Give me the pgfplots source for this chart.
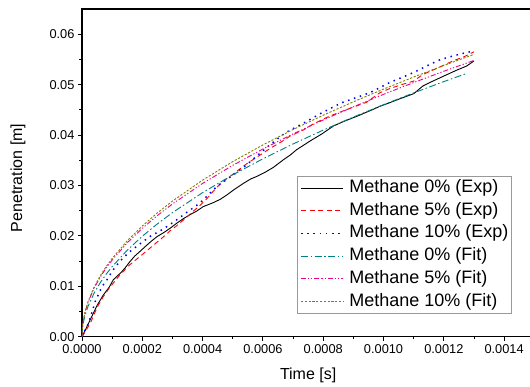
\documentclass[border=0pt]{standalone}
\usepackage{fontspec}
\setmainfont{Liberation Sans}
\usepackage{pgfplots}
\pgfplotsset{compat=1.18}
\definecolor{cteal}{RGB}{0,128,128}
\definecolor{colive}{RGB}{128,128,0}
\begin{document}
\begin{tikzpicture}
\begin{axis}[
  scale only axis, width=452.3pt, height=327.7pt,
  xmin=0, xmax=0.0015, ymin=0, ymax=0.065,
  xtick={0,0.0002,0.0004,0.0006,0.0008,0.0010,0.0012,0.0014},
  minor xtick={0.0001,0.0003,0.0005,0.0007,0.0009,0.0011,0.0013},
  ytick={0,0.01,0.02,0.03,0.04,0.05,0.06},
  minor ytick={0.005,0.015,0.025,0.035,0.045,0.055},
  tick pos=left, tick align=outside,
  major tick length=4pt, minor tick length=2.5pt,
  scaled ticks=false,
  x tick label style={/pgf/number format/.cd, fixed, fixed zerofill, precision=4, assume math mode=true, /tikz/.cd},
  y tick label style={/pgf/number format/.cd, fixed, fixed zerofill, precision=2, assume math mode=true, /tikz/.cd},
  tick label style={font=\fontsize{12.8}{14}\selectfont},
  axis line style={line width=1.1pt},
  every tick/.style={black, line width=0.9pt},
  xlabel={Time [s]}, ylabel={Penetration [m]},
  every axis x label/.style={at={(axis description cs:0.5,0)}, yshift=-39pt, anchor=center, font=\fontsize{16}{18}\selectfont},
  every axis y label/.style={at={(axis description cs:0,0.4843)}, xshift=-64pt, rotate=90, anchor=center, font=\fontsize{16}{18}\selectfont},
  legend style={at={(axis description cs:0.4753,0.4904)}, anchor=north west,
    draw=gray!80, line width=0.6pt, inner xsep=3pt, inner ysep=3.25pt,
    font=\fontsize{18}{20}\selectfont,
    nodes={inner sep=0pt, text height=13pt, text depth=4pt},
    row sep=5.7pt,
    /tikz/every odd column/.append style={column sep=5.6pt}},
  legend cell align=left,
  legend image code/.code={\draw[#1] (0pt,0pt) -- (42pt,0pt);},
  every axis plot/.append style={line width=0.9pt},
]
% Methane 0% (Exp)
\addplot[black, solid] coordinates {
(0,0) (0.00001,0.0012) (0.00003,0.0037) (0.00005,0.0062) (0.00007,0.0082)
(0.00009,0.0098) (0.000104,0.0113) (0.00012,0.0122) (0.000132,0.0129)
(0.000145,0.0138) (0.000159,0.0149) (0.000175,0.0160) (0.000192,0.0169)
(0.000212,0.0180) (0.000231,0.0190) (0.00025,0.0199) (0.00027,0.0206)
(0.000292,0.0215) (0.000314,0.0225) (0.000336,0.0234) (0.000358,0.0242)
(0.00038,0.0249) (0.000402,0.0258) (0.000436,0.0266) (0.00046,0.0273)
(0.00048,0.0281) (0.000505,0.0292) (0.000535,0.0304) (0.00056,0.0313)
(0.00058,0.0318) (0.000607,0.0326) (0.000635,0.0336) (0.000668,0.0351)
(0.00069,0.0360) (0.000712,0.0371) (0.000756,0.0388) (0.000795,0.0402)
(0.000834,0.0418) (0.000872,0.0428) (0.000911,0.0437) (0.000966,0.0451)
(0.000988,0.0457) (0.00102,0.0464) (0.00105,0.0471) (0.0011,0.0482)
(0.00113,0.0497) (0.00116,0.0506) (0.0012,0.0517) (0.00124,0.0528)
(0.001276,0.0537) (0.0013,0.0547)
};
\addlegendentry{Methane 0\% (Exp)}
% Methane 5% (Exp)
\addplot[red, dash pattern=on 5pt off 3.5pt] coordinates {
(0,0) (0.00001,0.0009) (0.00003,0.0030) (0.00005,0.0058) (0.00007,0.0079)
(0.00009,0.0096) (0.00011,0.0111) (0.000126,0.0123) (0.000159,0.0143)
(0.000192,0.0159) (0.000236,0.0181) (0.00027,0.0198) (0.000292,0.0210)
(0.000314,0.0220) (0.000347,0.0237) (0.000369,0.0249) (0.000391,0.0260)
(0.000413,0.0273) (0.00043,0.0285) (0.000463,0.0306) (0.0005,0.0322)
(0.000546,0.0343) (0.00059,0.0360) (0.000628,0.0375) (0.000668,0.0389)
(0.00069,0.0398) (0.000734,0.0410) (0.000767,0.0422) (0.000823,0.0438)
(0.00088,0.0451) (0.000944,0.0465) (0.000988,0.0484) (0.00102,0.0492)
(0.00106,0.0500) (0.0011,0.0507) (0.00113,0.0520) (0.001176,0.0532)
(0.00123,0.0547) (0.00127,0.0556) (0.0013,0.0565)
};
\addlegendentry{Methane 5\% (Exp)}
% Methane 10% (Exp)
\addplot[blue, line width=1.5pt, dash pattern=on 1.5pt off 4.7pt] coordinates {
(0,0) (0.00001,0.0013) (0.000022,0.0027) (0.000044,0.0070) (0.000066,0.0099)
(0.000083,0.0113) (0.0001,0.0130) (0.000126,0.0150) (0.000159,0.0169)
(0.000192,0.0184) (0.000226,0.0199) (0.000265,0.0212) (0.000303,0.0227)
(0.000353,0.0249) (0.000391,0.0265) (0.000425,0.0285) (0.000447,0.0298)
(0.0005,0.0320) (0.00054,0.0338) (0.000618,0.0378) (0.000673,0.0404)
(0.000745,0.0427) (0.000795,0.0444) (0.000861,0.0464) (0.000955,0.0484)
(0.00102,0.0504) (0.0011,0.0524) (0.001143,0.0537) (0.00119,0.0550)
(0.00125,0.0560) (0.0013,0.0567)
};
\addlegendentry{Methane 10\% (Exp)}
% Methane 0% (Fit)
\addplot[cteal, dash pattern=on 7pt off 2.5pt on 1.5pt off 2.5pt] coordinates {
(0,0) (0.000002,0.00182) (0.000005,0.00293) (0.00001,0.00419) (0.00002,0.00602)
(0.00004,0.00863) (0.00006,0.01066) (0.00008,0.01238) (0.0001,0.0139)
(0.00015,0.01716) (0.0002,0.01993) (0.00025,0.02238) (0.0003,0.02461)
(0.0004,0.02858) (0.0005,0.0321) (0.0006,0.03529) (0.0007,0.03823)
(0.0008,0.04098) (0.0009,0.04357) (0.001,0.04602) (0.0011,0.04836)
(0.0012,0.0506) (0.00127,0.0521)
};
\addlegendentry{Methane 0\% (Fit)}
% Methane 5% (Fit)
\addplot[magenta, dash pattern=on 5pt off 2pt on 1.2pt off 2pt on 1.2pt off 2pt] coordinates {
(0,0) (0.000002,0.00215) (0.000005,0.0034) (0.00001,0.00481) (0.00002,0.0068)
(0.00004,0.00961) (0.00006,0.01177) (0.00008,0.0136) (0.0001,0.0152)
(0.00015,0.01862) (0.0002,0.0215) (0.00025,0.02403) (0.0003,0.02633)
(0.0004,0.0304) (0.0005,0.03399) (0.0006,0.03723) (0.0007,0.04022)
(0.0008,0.04299) (0.0009,0.0456) (0.001,0.04807) (0.0011,0.05041)
(0.0012,0.05265) (0.0013,0.0548)
};
\addlegendentry{Methane 5\% (Fit)}
% Methane 10% (Fit)
\addplot[colive, dash pattern=on 2.2pt off 1.6pt] coordinates {
(0,0) (0.000002,0.0022) (0.000005,0.00347) (0.00001,0.00491) (0.00002,0.00694)
(0.00004,0.00982) (0.00006,0.01203) (0.00008,0.01389) (0.0001,0.01553)
(0.00015,0.01902) (0.0002,0.02196) (0.00025,0.02455) (0.0003,0.0269)
(0.0004,0.03106) (0.0005,0.03473) (0.0006,0.03804) (0.0007,0.04109)
(0.0008,0.04393) (0.0009,0.04659) (0.001,0.04911) (0.0011,0.05151)
(0.0012,0.0538) (0.0013,0.056)
};
\addlegendentry{Methane 10\% (Fit)}
\end{axis}
\pgfresetboundingbox
\path (-82pt,-50.3pt) rectangle (448pt,336.7pt);
\end{tikzpicture}
\end{document}
